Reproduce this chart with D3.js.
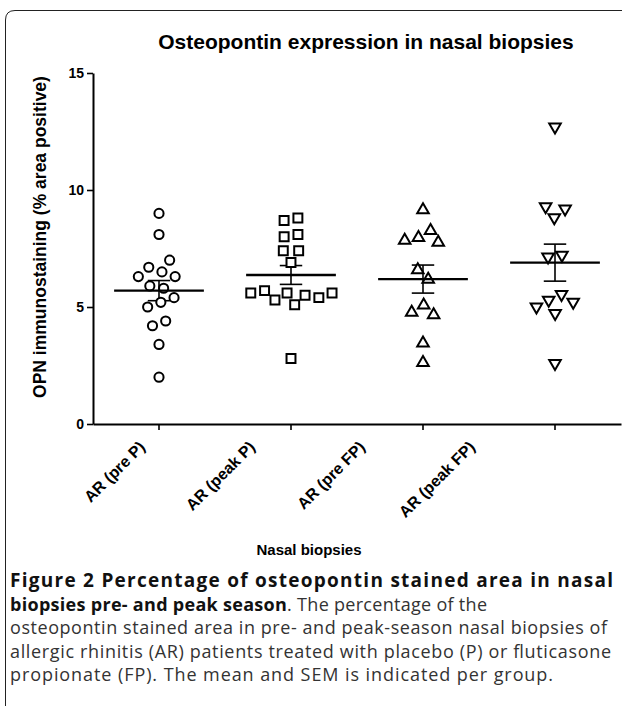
<!DOCTYPE html>
<html>
<head>
<meta charset="utf-8">
<script src="https://cdn.jsdelivr.net/npm/d3@7"></script>
<style>
  body { margin: 0; background: #fff; }
  svg { display: block; }
</style>
</head>
<body>
<svg id="fig" width="622" height="710"></svg>
<script>
// Data (% area positive)
const groups = ['AR (pre P)', 'AR (peak P)', 'AR (pre FP)', 'AR (peak FP)'];
const prePlacebo = [9.0, 8.1, 7.0, 6.7, 6.5, 6.3, 6.3, 5.9, 5.8, 5.4, 5.2, 5.0, 4.4, 4.2, 3.4, 2.0];
const peakPlacebo = [8.8, 8.7, 8.1, 8.0, 7.4, 7.4, 6.9, 5.7, 5.6, 5.6, 5.6, 5.5, 5.4, 5.3, 5.1, 2.8];
const preFluticasone = [9.15, 8.26, 7.96, 7.85, 7.76, 6.58, 6.18, 5.08, 4.77, 4.66, 3.45, 2.62];
const peakFluticasone = [12.7, 9.29, 9.2, 8.82, 7.22, 7.14, 5.54, 5.3, 5.21, 5.01, 4.73, 2.59];
const yTicks = [0, 5, 10, 15];

const series = [prePlacebo, peakPlacebo, preFluticasone, peakFluticasone];
const symbolTypes = [d3.symbolCircle, d3.symbolSquare, d3.symbolTriangle, d3.symbolTriangle];
const symbolSizes = [66, 80, 58, 58];
const symbolRotate = [0, 0, 0, 180];

const axisFont = '"Liberation Sans", Arial, sans-serif';
const captionFont = '"Open Sans", "Noto Sans", sans-serif';

const svg = d3.select('#fig');

// Page frame (rounded top-left corner)
svg.append('path')
    .attr('d', 'M5.5,706 V20 Q5.5,10.5 15,10.5 H622')
    .attr('fill', 'none')
    .attr('stroke', '#222')
    .attr('stroke-width', 1);

// Scales
const x = d3.scaleBand().domain(groups).range([93, 621]);
const y = d3.scaleLinear().domain([0, 15]).range([424, 73]);
const labelX = d3.scalePoint().domain(groups).range([146, 476]);

// Title
svg.append('text')
    .attr('x', 366)
    .attr('y', 49)
    .attr('text-anchor', 'middle')
    .style('font', `bold 21px ${axisFont}`)
    .text('Osteopontin expression in nasal biopsies');

// Y axis
const yAxis = svg.append('g')
    .attr('transform', 'translate(93,0)')
    .call(d3.axisLeft(y).tickValues(yTicks).tickSize(6).tickSizeOuter(0).tickPadding(3));
yAxis.select('.domain').attr('stroke-width', 2);
yAxis.selectAll('.tick line').attr('stroke-width', 1.6);
yAxis.selectAll('.tick text')
    .attr('fill', '#000')
    .style('font', `bold 14px ${axisFont}`);

svg.append('text')
    .attr('transform', 'translate(46,237) rotate(-90)')
    .attr('text-anchor', 'middle')
    .style('font', `bold 17.5px ${axisFont}`)
    .text('OPN immunostaining (% area positive)');

// X axis
const xAxis = svg.append('g')
    .attr('transform', 'translate(0,424)')
    .call(d3.axisBottom(x).tickSize(6).tickSizeOuter(0).tickFormat(''));
xAxis.select('.domain').attr('stroke-width', 2);
xAxis.selectAll('.tick line').attr('stroke-width', 1.6);

svg.append('g')
    .selectAll('text')
    .data(groups)
    .join('text')
    .attr('transform', d => `translate(${labelX(d)},448) rotate(-45)`)
    .attr('text-anchor', 'end')
    .style('font', `bold 16px ${axisFont}`)
    .text(d => d);

svg.append('text')
    .attr('x', 309)
    .attr('y', 555)
    .attr('text-anchor', 'middle')
    .style('font', `bold 15px ${axisFont}`)
    .text('Nasal biopsies');

// Beeswarm layout for each group
const swarm = (values, cx) => {
    const nodes = values.map(v => ({ v: v, x: cx, y: y(v), fy: y(v) }));
    const sim = d3.forceSimulation(nodes)
        .force('x', d3.forceX(cx).strength(0.06))
        .force('collide', d3.forceCollide(7))
        .stop();
    for (let i = 0; i < 300; i++) sim.tick();
    return nodes;
};

const plot = svg.append('g');

series.forEach((values, i) => {
    const g = groups[i];
    const cx = x(g) + x.bandwidth() / 2;
    const mean = d3.mean(values);
    const sem = d3.deviation(values) / Math.sqrt(values.length);
    const halfMean = x.bandwidth() * 0.34;
    const halfCap = x.bandwidth() * 0.085;

    // Error bar (SEM)
    plot.append('line')
        .attr('x1', cx).attr('x2', cx)
        .attr('y1', y(mean + sem)).attr('y2', y(mean - sem))
        .attr('stroke', '#000').attr('stroke-width', 1.6);
    [mean + sem, mean - sem].forEach(v => {
        plot.append('line')
            .attr('x1', cx - halfCap).attr('x2', cx + halfCap)
            .attr('y1', y(v)).attr('y2', y(v))
            .attr('stroke', '#000').attr('stroke-width', 1.6);
    });

    // Points
    const nodes = swarm(values, cx);
    plot.append('g')
        .selectAll('path')
        .data(nodes)
        .join('path')
        .attr('transform', d => `translate(${d.x},${d.y}) rotate(${symbolRotate[i]})`)
        .attr('d', d3.symbol().type(symbolTypes[i]).size(symbolSizes[i]))
        .attr('fill', '#fff')
        .attr('stroke', '#000')
        .attr('stroke-width', 2);

    // Mean line
    plot.append('line')
        .attr('x1', cx - halfMean).attr('x2', cx + halfMean)
        .attr('y1', y(mean)).attr('y2', y(mean))
        .attr('stroke', '#000').attr('stroke-width', 2.4);
});

// Caption
const caption = svg.append('g').style('font-family', captionFont).style('font-size', '18px');
const lineYs = [587, 610.5, 634, 658, 681];

caption.append('text')
    .attr('x', 10).attr('y', lineYs[0])
    .attr('textLength', 603).attr('lengthAdjust', 'spacing')
    .style('font-weight', 'bold').style('font-size', '19px').attr('fill', '#111')
    .text('Figure 2 Percentage of osteopontin stained area in nasal');

const l2 = caption.append('text')
    .attr('x', 10).attr('y', lineYs[1])
    .attr('textLength', 477).attr('lengthAdjust', 'spacing');
l2.append('tspan').style('font-weight', 'bold').attr('fill', '#111').text('biopsies pre- and peak season');
l2.append('tspan').attr('fill', '#333').text('. The percentage of the');

[
    'osteopontin stained area in pre- and peak-season nasal biopsies of',
    'allergic rhinitis (AR) patients treated with placebo (P) or fluticasone',
    'propionate (FP). The mean and SEM is indicated per group.'
].forEach((t, i) => {
    caption.append('text')
        .attr('x', 10).attr('y', lineYs[i + 2])
        .attr('textLength', [597, 601, 543][i]).attr('lengthAdjust', 'spacing')
        .attr('fill', '#333')
        .text(t);
});
</script>
</body>
</html>
